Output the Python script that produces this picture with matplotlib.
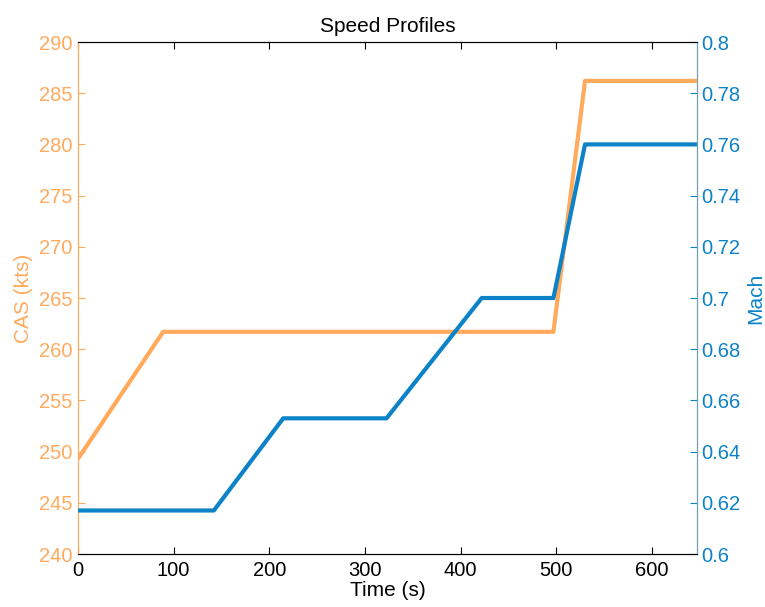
import matplotlib
matplotlib.use("Agg")
import matplotlib.pyplot as plt

plt.rcParams['font.family'] = ['Liberation Sans', 'DejaVu Sans']

# Calibrated airspeed profile (kts) over time (s)
time_cas = [0, 89, 497, 530, 647]
cas = [249.3, 261.7, 261.7, 286.2, 286.2]

# Mach profile over time (s)
time_mach = [0, 142, 214.5, 322.5, 422, 497, 530, 647]
mach = [0.617, 0.617, 0.653, 0.653, 0.700, 0.700, 0.760, 0.760]

cas_ticks = [240, 245, 250, 255, 260, 265, 270, 275, 280, 285, 290]
mach_ticks = [0.6, 0.62, 0.64, 0.66, 0.68, 0.7, 0.72, 0.74, 0.76, 0.78, 0.8]
mach_labels = ['0.6', '0.62', '0.64', '0.66', '0.68', '0.7', '0.72', '0.74', '0.76', '0.78', '0.8']
time_ticks = [0, 100, 200, 300, 400, 500, 600]

orange = '#FFAA5C'
blue = '#0C82C8'
spine_blue = '#6E9EB2'

fig = plt.figure(figsize=(7.65, 6.07), dpi=100)
ax = fig.add_axes([0.102, 0.0873, 0.809, 0.8435])
ax2 = ax.twinx()

ax.plot(time_cas, cas, color=orange, lw=3, solid_capstyle='butt', zorder=3)
ax2.plot(time_mach, mach, color=blue, lw=3, solid_capstyle='butt', zorder=3)

ax.set_xlim(0, 647)
ax.set_ylim(240, 290)
ax2.set_ylim(0.6, 0.8)

ax.set_xticks(time_ticks)
ax.set_yticks(cas_ticks)
ax2.set_yticks(mach_ticks)
ax2.set_yticklabels(mach_labels)

ax.tick_params(axis='x', direction='in', top=True, length=5, labelsize=14.5, colors='black', pad=5)
ax.tick_params(axis='y', direction='in', length=5, labelsize=14.5, colors=orange, pad=4)
ax2.tick_params(axis='y', direction='in', length=5, labelsize=14.5, colors=blue, pad=3)

for a in (ax, ax2):
    a.spines['top'].set_color('black')
    a.spines['bottom'].set_color('black')
    a.spines['left'].set_color(orange)
    a.spines['right'].set_color(spine_blue)

ax.set_xlabel('Time (s)', fontsize=15, labelpad=1)
ax.set_ylabel('CAS (kts)', fontsize=15, color=orange, labelpad=4)
ax2.set_ylabel('Mach', fontsize=15, color=blue, labelpad=4)
ax.set_title('Speed Profiles', fontsize=15, pad=7)

fig.savefig('out.png', dpi=100)
